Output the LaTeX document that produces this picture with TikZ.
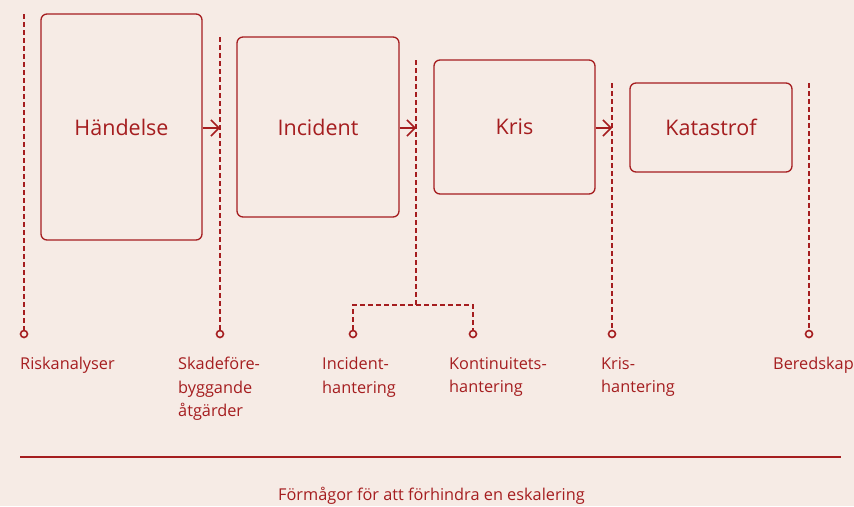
\documentclass[tikz,border=0pt]{standalone}
\usepackage{fontspec}
\setmainfont{Open Sans}
\usetikzlibrary{arrows.meta}
\definecolor{bg}{HTML}{F6EBE5}
\definecolor{rd}{HTML}{A51D1F}
\tikzset{
  stage/.style={draw=rd, line width=1.3pt, rounded corners=6pt, text=rd, font=\fontsize{21.5}{24}\selectfont, inner sep=0pt},
  dline/.style={draw=rd, line width=2pt, dash pattern=on 5pt off 3pt},
  dot/.style={circle, draw=rd, line width=1.6pt, fill=bg, minimum size=7pt, inner sep=0pt},
  lbl/.style={anchor=north west, inner sep=0pt, align=left, text=rd, font=\fontsize{16.3}{23.5}\selectfont},
  arr/.style={draw=rd, line width=1.5pt, -{Straight Barb[length=8pt,width=16pt,line width=1.5pt]}}
}
\begin{document}
\begin{tikzpicture}[x=1pt,y=-1pt]
\fill[bg] (0,0) rectangle (854,506);
\useasboundingbox (0,0) rectangle (854,506);
% stage boxes
\node[stage, minimum width=161pt, minimum height=226pt] (h) at (121.5,127) {\raisebox{-1pt}{Händelse}};
\node[stage, minimum width=162pt, minimum height=180pt] (i) at (318,127) {\raisebox{-1pt}{Incident}};
\node[stage, minimum width=161pt, minimum height=134pt] (k) at (514.5,127) {\raisebox{-1pt}{Kris}};
\node[stage, minimum width=162pt, minimum height=89pt] (c) at (711,127.5) {\raisebox{-1pt}{Katastrof}};
% vertical line tops
\coordinate (t1) at (24,14);
\coordinate (t2) at (220,37);
\coordinate (t3) at (416,60);
\coordinate (t4) at (612,83);
\coordinate (t5) at (809,83);
% dots
\node[dot] (d1) at (24,334) {};
\node[dot] (d2) at (220,334) {};
\node[dot] (d3) at (353,334) {};
\node[dot] (d4) at (473,334) {};
\node[dot] (d5) at (612,334) {};
\node[dot] (d6) at (809,334) {};
\coordinate (j) at (416,305);
% dashed lines
\draw[dline] (t1) -- (d1.north);
\draw[dline] (t2) -- (d2.north);
\draw[dline] (t3) -- (j);
\draw[dline] (d3.north) |- (j) -| (d4.north);
\draw[dline] (t4) -- (d5.north);
\draw[dline] (t5) -- (d6.north);
% arrows
\coordinate (a1) at (220,128);
\coordinate (a2) at (416,128);
\coordinate (a3) at (612,128);
\draw[arr] (h.east |- a1) -- (a1);
\draw[arr] (i.east |- a2) -- (a2);
\draw[arr] (k.east |- a3) -- (a3);
% labels
\node[lbl] (l1) at (20,357) {Riskanalyser};
\node[lbl] (l2) at (178,357) {Skadeföre-\\byggande\\åtgärder};
\node[lbl] (l3) at (322,357) {Incident-\\hantering};
\node[lbl] (l4) at (449,357) {Kontinuitets-\\hantering};
\node[lbl] (l5) at (601,357) {Kris-\\hantering};
\node[lbl] (l6) at (773,357) {Beredskap};
% bottom rule and caption
\coordinate (r1) at (20,457);
\coordinate (r2) at (841,457);
\draw[rd, line width=1.2pt] (r1) -- (r2);
\node[text=rd, font=\fontsize{16.3}{18}\selectfont, inner sep=0pt] (cap) at (431.5,496) {Förmågor för att förhindra en eskalering};
\end{tikzpicture}
\end{document}
